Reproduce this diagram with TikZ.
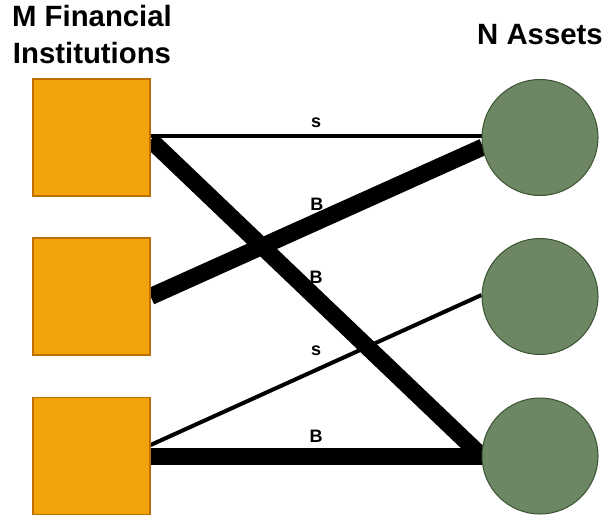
\documentclass[tikz,border=0pt]{standalone}
\usepackage{fontspec}
\setmainfont{Liberation Sans}
\usetikzlibrary{calc}
\definecolor{instfill}{HTML}{F0A30A}
\definecolor{instline}{HTML}{BD7000}
\definecolor{assetfill}{HTML}{6D8764}
\definecolor{assetline}{HTML}{3A5431}
\pgfdeclarelayer{edges}
\pgfsetlayers{edges,main}
\begin{document}
\begin{tikzpicture}[x=0.75pt,y=-0.75pt,
  instbox/.style={rectangle, draw=instline, fill=instfill, line width=0.9pt, minimum size=87.75pt, inner sep=0pt},
  assetnode/.style={circle, draw=assetline, fill=assetfill, line width=0.75pt, minimum size=87pt, inner sep=0pt},
  thinedge/.style={line width=3pt, line cap=butt},
  thickedge/.style={line width=12.75pt, line cap=butt},
  lbl/.style={font=\fontsize{13.5}{16}\selectfont\bfseries, anchor=base, inner sep=0pt},
  titletext/.style={font=\fontsize{22}{27.75}\selectfont\bfseries, inner sep=0pt, align=center}]
\useasboundingbox (0,0) rectangle (605,516);

% titles
\node[titletext, anchor=north] (tm) at (92,5) {M Financial\\Institutions};
\node[titletext, anchor=base] (ta) at (540,45) {N Assets};

% institutions
\node[instbox] (f1) at (91.5,137.5) {};
\node[instbox] (f2) at (91.5,296.5) {};
\node[instbox] (f3) at (91.5,456) {};

% assets
\node[assetnode] (a1) at (540,137.5) {};
\node[assetnode] (a2) at (540,296.5) {};
\node[assetnode] (a3) at (540,456) {};

\begin{pgfonlayer}{edges}
\draw[thinedge] ($(f1.east)+(0,-1.5)$) -- ($(a1.west)+(0,-1.5)$)
  node[lbl, pos=0.5, yshift=6pt] (l1) {s};
\draw[thickedge] (f2.east) -- ($(a1.center)+(-57,9.5)$)
  node[lbl, pos=0.5, yshift=8.6pt] (l2) {B};
\draw[thickedge] ($(f1.east)+(0,2.5)$) -- (a3.west)
  node[lbl, pos=0.5, yshift=11.25pt] (l3) {B};
\draw[thinedge] ($(f3.east)+(0,-11)$) -- ($(a2.west)+(0,-1.5)$)
  node[lbl, pos=0.5, yshift=11.25pt] (l4) {s};
\draw[thickedge] (f3.east) -- (a3.west)
  node[lbl, pos=0.5, yshift=10.5pt] (l5) {B};
\end{pgfonlayer}
\end{tikzpicture}
\end{document}
